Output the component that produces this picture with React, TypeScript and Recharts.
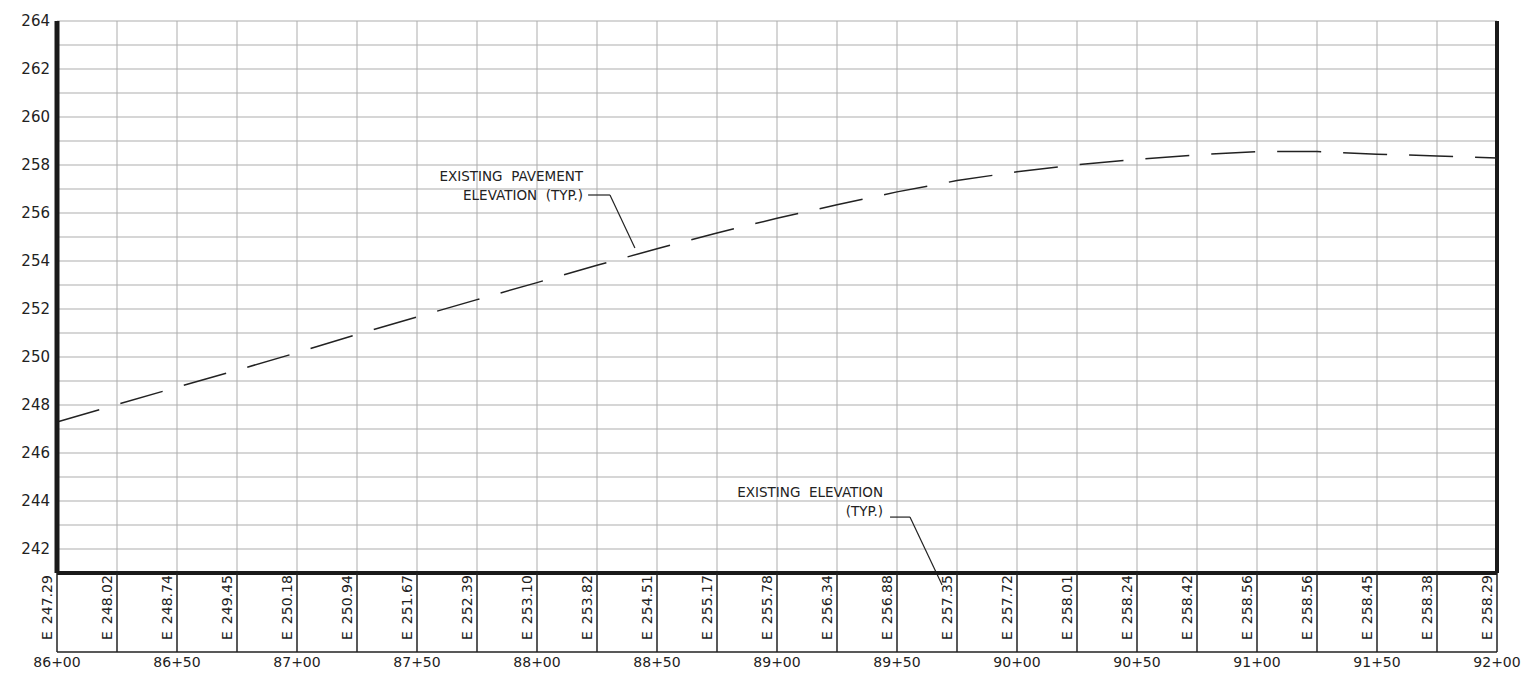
import {
  LineChart,
  Line,
  XAxis,
  YAxis,
  CartesianGrid,
  ReferenceLine,
  ReferenceDot,
} from "recharts";

// stations in feet (86+00 .. 92+00, every 25 ft)
const stations = [
  8600, 8625, 8650, 8675, 8700, 8725, 8750, 8775, 8800, 8825, 8850, 8875, 8900,
  8925, 8950, 8975, 9000, 9025, 9050, 9075, 9100, 9125, 9150, 9175, 9200,
];

// existing pavement elevation at each station
const elevations = [
  247.29, 248.02, 248.74, 249.45, 250.18, 250.94, 251.67, 252.39, 253.1, 253.82,
  254.51, 255.17, 255.78, 256.34, 256.88, 257.35, 257.72, 258.01, 258.24,
  258.42, 258.56, 258.56, 258.45, 258.38, 258.29,
];

const stationLabels = [8600, 8650, 8700, 8750, 8800, 8850, 8900, 8950, 9000, 9050, 9100, 9150, 9200];
const elevTicks = [242, 244, 246, 248, 250, 252, 254, 256, 258, 260, 262, 264];
const elevGrid = [241, 242, 243, 244, 245, 246, 247, 248, 249, 250, 251, 252, 253, 254, 255, 256, 257, 258, 259, 260, 261, 262, 263, 264];

// callouts: text anchor (right end of first line) and leader polyline, in station / elevation units
const pavementNote = ["EXISTING  PAVEMENT", "ELEVATION  (TYP.)"];
const pavementAnchor = { x: 8819.2, y: 257.33 };
const pavementLeader = [
  { x: 8821.3, y: 256.75 },
  { x: 8830.4, y: 256.75 },
  { x: 8840.8, y: 254.54 },
];
const groundNote = ["EXISTING  ELEVATION", "(TYP.)"];
const groundAnchor = { x: 8944.2, y: 244.15 };
const groundLeader = [
  { x: 8947.1, y: 243.33 },
  { x: 8955.4, y: 243.33 },
  { x: 8968.8, y: 240.5 },
];

const data = stations.map((sta, i) => ({ sta, elev: elevations[i] }));

const fmtSta = (s: number) => `${Math.floor(s / 100)}+${String(s % 100).padStart(2, "0")}`;

const FONT = "'DejaVu Sans', sans-serif";
const BAND = 79;

const BandTick = (props: any) => {
  const { x, y, payload } = props;
  const i = stations.indexOf(payload.value);
  const v = elevations[i];
  return (
    <g>
      <line x1={x} y1={y} x2={x} y2={y + BAND} stroke="#222" strokeWidth={1.5} />
      <text
        transform={`translate(${x - 5},${y + 67}) rotate(-90)`}
        fontFamily={FONT}
        fontSize={14}
        fill="#222"
      >
        <tspan>E</tspan>
        <tspan dx={7}>{v.toFixed(2)}</tspan>
      </text>
    </g>
  );
};

const Note = ({ lines, cx, cy }: { lines: string[]; cx?: number; cy?: number }) => (
  <text
    fontFamily={FONT}
    fontSize={13.5}
    fill="#222"
    textAnchor="end"
    style={{ whiteSpace: "pre" }}
  >
    {lines.map((l, k) => (
      <tspan key={k} x={cx} y={(cy ?? 0) + k * 19}>
        {l}
      </tspan>
    ))}
  </text>
);

const leader = (pts: { x: number; y: number }[], key: string) =>
  pts.slice(1).map((p, k) => (
    <ReferenceLine
      key={`${key}${k}`}
      segment={[pts[k], p]}
      stroke="#222"
      strokeWidth={1.2}
      ifOverflow="visible"
    />
  ));

export default function App() {
  return (
    <div style={{ position: "absolute", left: 0, top: 0, background: "#fff" }}>
      <LineChart
        width={1536}
        height={677}
        data={data}
        margin={{ top: 21, right: 39, bottom: 0, left: 0 }}
      >
        <CartesianGrid
          stroke="#adadad"
          strokeWidth={1}
          horizontalValues={elevGrid}
          verticalValues={stations}
        />
        <XAxis
          dataKey="sta"
          type="number"
          domain={[8600, 9200]}
          ticks={stations}
          interval={0}
          height={BAND}
          tickSize={0}
          tickMargin={0}
          axisLine={{ stroke: "#1a1a1a", strokeWidth: 4 }}
          tick={<BandTick />}
        />
        <XAxis
          xAxisId="sta"
          dataKey="sta"
          type="number"
          domain={[8600, 9200]}
          ticks={stationLabels}
          interval={0}
          height={25}
          tickSize={0}
          tickMargin={5}
          axisLine={{ stroke: "#222", strokeWidth: 1.5 }}
          tickLine={false}
          tickFormatter={fmtSta}
          tick={{ fontFamily: FONT, fontSize: 14, fill: "#222" }}
        />
        <YAxis
          type="number"
          domain={[241, 264]}
          ticks={elevTicks}
          interval={0}
          width={57}
          tickSize={6}
          tickMargin={1}
          tickLine={false}
          axisLine={{ stroke: "#1a1a1a", strokeWidth: 5 }}
          tick={{ fontFamily: FONT, fontSize: 15, fill: "#222" }}
        />
        <ReferenceLine x={9200} stroke="#1a1a1a" strokeWidth={4} />
        <Line
          dataKey="elev"
          type="linear"
          stroke="#222"
          strokeWidth={1.5}
          strokeDasharray="44 22"
          dot={false}
          isAnimationActive={false}
        />
        {leader(pavementLeader, "pl")}
        {leader(groundLeader, "gl")}
        <ReferenceDot
          x={pavementAnchor.x}
          y={pavementAnchor.y}
          r={0}
          ifOverflow="visible"
          shape={(p: any) => <Note lines={pavementNote} cx={p.cx} cy={p.cy} />}
        />
        <ReferenceDot
          x={groundAnchor.x}
          y={groundAnchor.y}
          r={0}
          ifOverflow="visible"
          shape={(p: any) => <Note lines={groundNote} cx={p.cx} cy={p.cy} />}
        />
      </LineChart>
    </div>
  );
}
